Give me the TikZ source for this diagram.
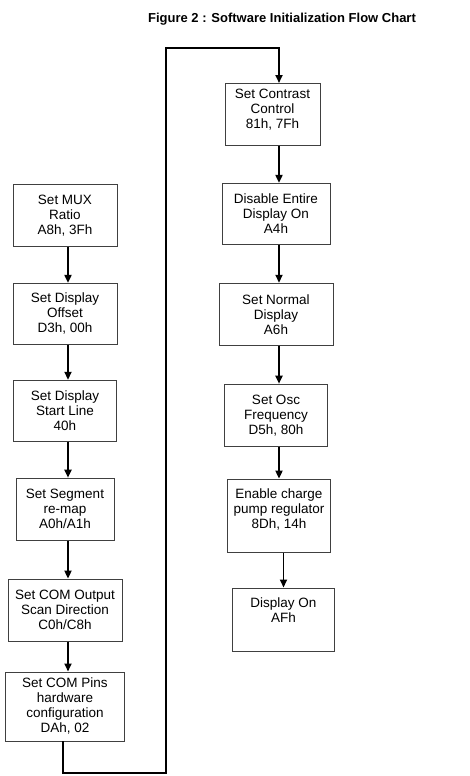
\documentclass[tikz,border=0pt]{standalone}
\usepackage{fontspec}
\setmainfont{Liberation Sans}
\usetikzlibrary{arrows.meta,positioning}

\newcommand\boxfont{\fontsize{13.5}{15}\selectfont}

\begin{document}
\begin{tikzpicture}[
    x=1pt, y=-1pt,
    flowbox/.style={
        draw=black!75,
        line width=0.9pt,
        align=center,
        anchor=north,
        inner sep=3pt,
        minimum height=62pt,
        font=\boxfont
    },
    arrow/.style={-{Triangle[length=8pt,width=7pt]}, line width=1.8pt}
]
\useasboundingbox (0,0) rectangle (470,776);

\node[font=\fontsize{13}{15}\selectfont\bfseries, anchor=base] (title) at (282,23) {Figure 2 : Software Initialization Flow Chart};

% left column
\node[flowbox, minimum width=104pt] (mux) at (65,184) {Set MUX\\Ratio\\A8h, 3Fh};
\node[flowbox, minimum width=104pt, minimum height=61pt, below=36pt of mux] (offset) {Set Display\\Offset\\D3h, 00h};
\node[flowbox, minimum width=103pt, minimum height=61pt, below=35pt of offset] (startline) {Set Display\\Start Line\\40h};
\node[flowbox, minimum width=98pt, below=36pt of startline] (remap) {Set Segment\\re-map\\A0h/A1h};
\node[flowbox, minimum width=114pt, below=38pt of remap] (scandir) {Set COM Output\\Scan Direction\\C0h/C8h};
\node[flowbox, minimum width=119pt, minimum height=69pt, below=30pt of scandir] (compins) {Set COM Pins\\hardware\\configuration\\DAh, 02};

% right column
\node[flowbox, minimum width=95pt, text depth=10.5pt] (contrast) at (272.5,83) {Set Contrast\\Control\\81h, 7Fh};
\node[flowbox, minimum width=108pt, minimum height=61pt, below=37pt of contrast, xshift=3.5pt] (entire) {Disable Entire\\Display On\\A4h};
\node[flowbox, minimum width=114pt, below=38pt of entire] (normal) {Set Normal\\Display\\A6h};
\node[flowbox, minimum width=103pt, below=38pt of normal] (osc) {Set Osc\\Frequency\\D5h, 80h};
\node[flowbox, minimum width=103pt, minimum height=73pt, text depth=13.5pt, below=32pt of osc, xshift=3pt] (pump) {Enable charge\\pump regulator\\8Dh, 14h};
\node[flowbox, minimum width=102pt, minimum height=63pt, text depth=18.5pt, below=35pt of pump, xshift=4.5pt] (dispon) {Display On\\AFh};

\coordinate (colL) at (68,0);
\coordinate (colR) at (279,0);
\coordinate (loopbl) at (63,773);
\coordinate (looptr) at (166,48);

\draw[arrow] (mux.south -| colL) -- (offset.north -| colL);
\draw[arrow] (offset.south -| colL) -- (startline.north -| colL);
\draw[arrow] (startline.south -| colL) -- (remap.north -| colL);
\draw[arrow] (remap.south -| colL) -- (scandir.north -| colL);
\draw[arrow] (scandir.south -| colL) -- (compins.north -| colL);

\draw[arrow] (compins.south -| loopbl) -- (loopbl) -| (looptr) -| (contrast.north -| colR);

\draw[arrow] (contrast.south -| colR) -- (entire.north -| colR);
\draw[arrow] (entire.south -| colR) -- (normal.north -| colR);
\draw[arrow] (normal.south -| colR) -- (osc.north -| colR);
\draw[arrow] (osc.south -| colR) -- (pump.north -| colR);
\draw[arrow] (pump.south -| dispon.north) -- (dispon.north);
\end{tikzpicture}
\end{document}
